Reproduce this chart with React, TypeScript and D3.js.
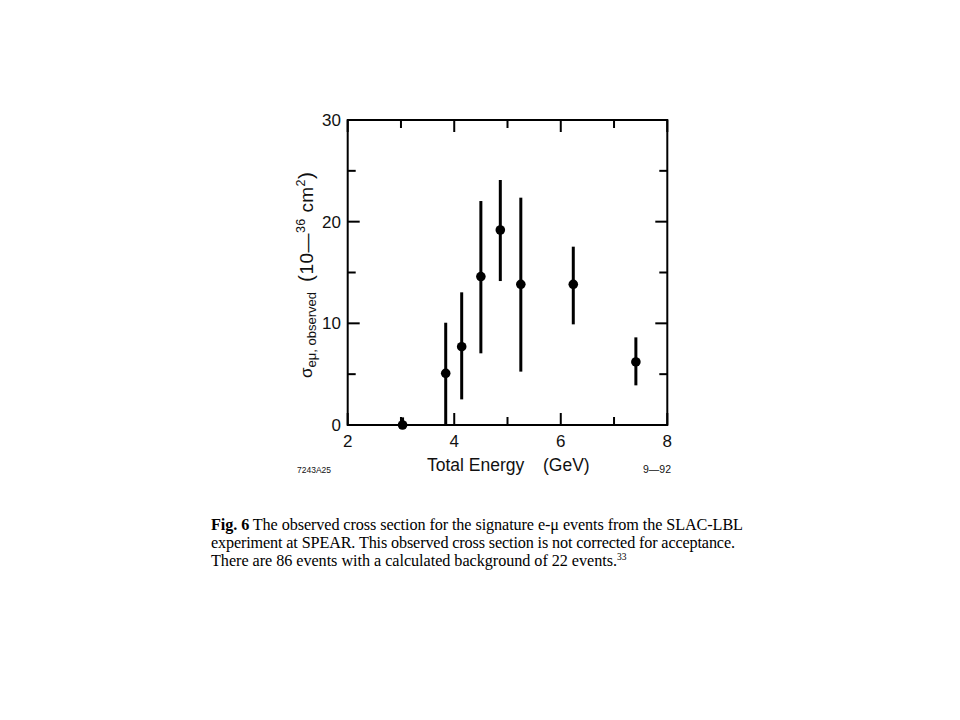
import React from "react";
import * as d3 from "d3";

const energy = [3.03, 3.84, 4.14, 4.5, 4.865, 5.25, 6.235, 7.41];
const sigma = [0, 5.08, 7.7, 14.6, 19.18, 13.84, 13.84, 6.2];
const errHigh = [0.75, 10.06, 13.05, 22.03, 24.1, 22.36, 17.54, 8.62];
const errLow = [0, 0, 2.52, 7.05, 14.16, 5.25, 9.9, 3.9];

const xMajor = [2, 4, 6, 8];
const xMinor = [3, 5, 7];
const yMajor = [0, 10, 20, 30];
const yMinor = [5, 15, 25];

const captionBold = "Fig. 6";
const captionLines = [
  " The observed cross section for the signature e-\u03bc events from the SLAC-LBL",
  "experiment at SPEAR. This observed cross section is not corrected for acceptance.",
  "There are 86 events with a calculated background of 22 events.",
];

const L = 347.7, R = 667.3, T = 120, B = 425;
const sans = "'Liberation Sans', Arial, sans-serif";
const serif = "'Liberation Serif', 'Times New Roman', serif";

export default function App() {
  const x = d3.scaleLinear().domain([2, 8]).range([L, R]);
  const y = d3.scaleLinear().domain([0, 30]).range([B, T]);
  const MAJ = 12, MIN = 8;
  return (
    <svg width={960} height={720} style={{ position: "absolute", left: 0, top: 0, background: "#fff" }}>
      <rect x={0} y={0} width={960} height={720} fill="#fff" />
      {/* ticks */}
      <g stroke="#000" strokeWidth={2}>
        {xMajor.map((v) => (
          <g key={"xM" + v}>
            <line x1={x(v)} x2={x(v)} y1={B} y2={B - MAJ} />
            <line x1={x(v)} x2={x(v)} y1={T} y2={T + MAJ} />
          </g>
        ))}
        {xMinor.map((v) => (
          <g key={"xm" + v}>
            <line x1={x(v)} x2={x(v)} y1={B} y2={B - MIN} />
            <line x1={x(v)} x2={x(v)} y1={T} y2={T + MIN} />
          </g>
        ))}
        {yMajor.map((v) => (
          <g key={"yM" + v}>
            <line x1={L} x2={L + MAJ} y1={y(v)} y2={y(v)} />
            <line x1={R} x2={R - MAJ} y1={y(v)} y2={y(v)} />
          </g>
        ))}
        {yMinor.map((v) => (
          <g key={"ym" + v}>
            <line x1={L} x2={L + MIN} y1={y(v)} y2={y(v)} />
            <line x1={R} x2={R - MIN} y1={y(v)} y2={y(v)} />
          </g>
        ))}
        <rect x={L} y={T} width={R - L} height={B - T} fill="none" />
      </g>
      {/* tick labels */}
      <g fontFamily={sans} fontSize={17} fill="#111">
        {xMajor.map((v) => (
          <text key={"xl" + v} x={x(v)} y={447} textAnchor="middle">{v}</text>
        ))}
        {yMajor.map((v) => (
          <text key={"yl" + v} x={341} y={y(v) + 6} textAnchor="end">{v}</text>
        ))}
      </g>
      {/* error bars and points */}
      <g>
        {energy.map((e, i) => (
          <g key={"p" + i}>
            <line x1={x(e)} x2={x(e)} y1={y(errLow[i])} y2={y(errHigh[i])} stroke="#000" strokeWidth={3} />
            <circle cx={x(e)} cy={y(sigma[i])} r={4.8} fill="#000" />
          </g>
        ))}
      </g>
      {/* x axis label */}
      <g fontFamily={sans} fill="#111">
        <text x={427} y={471} fontSize={17.5}>Total Energy</text>
        <text x={543} y={471} fontSize={17.5}>(GeV)</text>
        <text x={297} y={473} fontSize={9.5} textLength={34} lengthAdjust="spacingAndGlyphs">7243A25</text>
        <text x={643} y={473} fontSize={10} textLength={28} lengthAdjust="spacingAndGlyphs">9{"\u2014"}92</text>
      </g>
      {/* y axis label */}
      <g fontFamily={sans} fill="#111">
        <text transform="translate(312,378) rotate(-90)" fontSize={17}>
          {"\u03c3"}
          <tspan fontSize={13} dy={4}>{"e\u03bc, observed"}</tspan>
        </text>
        <text transform="translate(313,282) rotate(-90)" fontSize={19} textLength={110} lengthAdjust="spacing">
          <tspan fontSize={21}>(</tspan>10{"\u2014"}
          <tspan fontSize={12.5} dy={-8}>36</tspan>
          <tspan dy={8}>{" cm"}</tspan>
          <tspan fontSize={12.5} dy={-8}>2</tspan>
          <tspan dy={8} fontSize={21}>)</tspan>
        </text>
      </g>
      {/* caption */}
      <g fontFamily={serif} fontSize={16.2} fill="#000">
        <text x={211} y={530} textLength={532} lengthAdjust="spacing">
          <tspan fontWeight="bold">{captionBold}</tspan>
          {captionLines[0]}
        </text>
        <text x={211} y={548} textLength={524} lengthAdjust="spacing">{captionLines[1]}</text>
        <text x={211} y={566} textLength={406} lengthAdjust="spacing">{captionLines[2]}</text>
        <text x={617} y={560} fontSize={9.5}>33</text>
      </g>
    </svg>
  );
}
